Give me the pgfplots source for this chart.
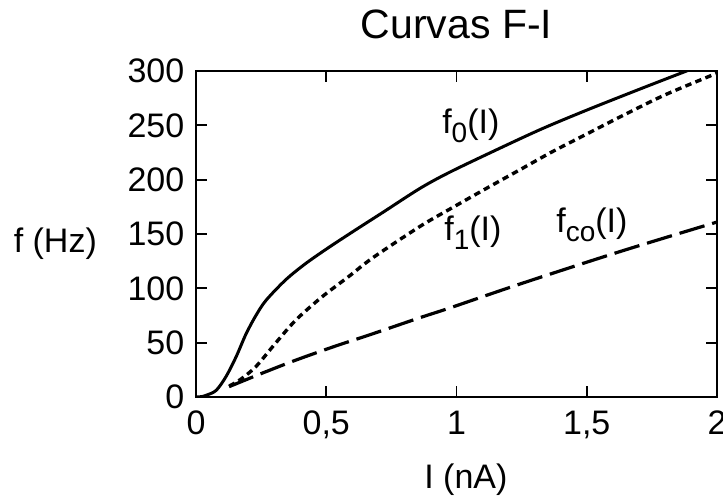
\documentclass[border=0pt]{standalone}
\usepackage{fontspec}
\setmainfont{Liberation Sans}
\usepackage{pgfplots}
\pgfplotsset{compat=1.18}

\newcommand{\sub}[1]{\raisebox{-0.5ex}{\fontsize{14}{14}\selectfont #1}}

\begin{document}
\fontsize{17}{20}\selectfont
\begin{tikzpicture}
\begin{axis}[
    name=ax,
    at={(0,0)}, anchor=south west,
    scale only axis,
    width=260.5pt,
    height=163pt,
    xmin=0, xmax=2,
    ymin=0, ymax=300,
    xtick={0,0.5,1,1.5,2},
    ytick={0,50,100,150,200,250,300},
    tick align=inside,
    major tick length=5.5pt,
    tick style={line width=0.9pt, black},
    axis line style={line width=1pt},
    /pgf/number format/use comma,
    /pgf/number format/assume math mode=true,
    ticklabel style={font=\fontsize{17}{20}\selectfont},
    xticklabel style={yshift=-1pt},
    title={Curvas F-I},
    title style={at={(axis description cs:0.5,1.105)}, anchor=center, font=\fontsize{20.5}{24}\selectfont},
    xlabel={I (nA)},
    xlabel style={at={(axis description cs:0.518,-0.255)}, anchor=center},
    ylabel={f (Hz)},
    ylabel style={rotate=-90, at={(axis description cs:-0.27,0.47)}, anchor=center},
    clip=true,
]

% f_0(I)
\addplot[black, line width=1.5pt, smooth] coordinates {
    (0,0) (0.02,0.3) (0.038,1.5) (0.077,6) (0.115,18.7) (0.154,37) (0.192,58)
    (0.23,75) (0.269,89) (0.345,108) (0.422,123) (0.512,138) (0.614,154)
    (0.718,170) (0.86,192) (0.975,207) (1.167,229) (1.33,247)
    (1.5,264) (1.7,283) (1.883,300) (1.95,306)
};

% f_1(I)
\addplot[black, line width=1.7pt, dash pattern=on 3.2pt off 2.2pt, smooth] coordinates {
    (0.127,10) (0.17,16) (0.23,28) (0.307,50) (0.384,71) (0.483,92) (0.587,111)
    (0.678,128) (0.86,157) (0.975,173) (1.115,192) (1.25,210) (1.37,226)
    (1.5,242) (1.63,258) (1.8,278) (2.0,298)
};

% f_co(I)
\addplot[black, line width=1.6pt, dash pattern=on 13pt off 4pt, smooth] coordinates {
    (0.127,9.5) (0.255,22) (0.384,34) (0.537,47) (0.664,57) (0.86,73) (0.975,82)
    (1.244,104) (1.63,134) (2.0,161)
};

\node at (axis cs:1.055,250) {f\sub{0}(I)};
\node at (axis cs:1.063,151) {f\sub{1}(I)};
\node at (axis cs:1.52,158) {f\sub{co}(I)};
\end{axis}
\pgfresetboundingbox
\path (-98pt,-52.5pt) rectangle (263.5pt,198.5pt);
\end{tikzpicture}
\end{document}
